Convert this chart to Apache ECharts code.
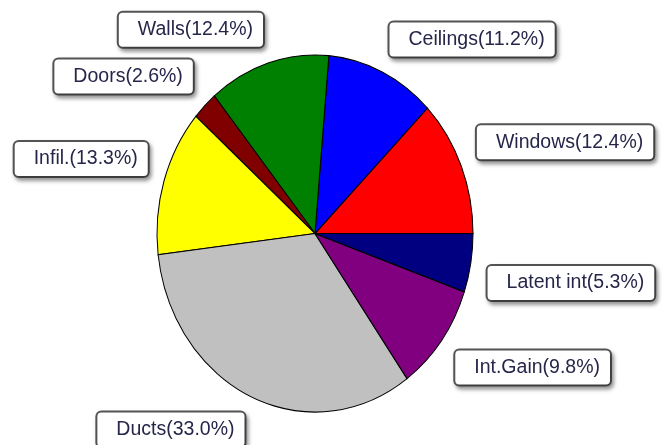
<!DOCTYPE html>
<html>
<head>
<meta charset="utf-8">
<script src="https://cdn.jsdelivr.net/npm/echarts@6/dist/echarts.min.js"></script>
<style>
  html, body { margin: 0; padding: 0; background: #fff; }
  #pieChart { width: 664px; height: 445px; }
</style>
</head>
<body>
<div id="pieChart"></div>
<script>
// load components and their share of the total
const categories = ['Windows', 'Ceilings', 'Walls', 'Doors', 'Infil.', 'Ducts', 'Int.Gain', 'Latent int']
const shares = [12.4, 11.2, 12.4, 2.6, 13.3, 33.0, 9.8, 5.3]
const sliceColors = ['#ff0000', '#0000ff', '#008000', '#800000', '#ffff00', '#c0c0c0', '#800080', '#000080']

// pie is drawn as an ellipse (a circle stretched vertically)
const CX = 315
const CY = 233.5
const R = 158
const SY = 1.13
const LABEL_GAP = 17

const chart = echarts.init(document.getElementById('pieChart'))
const total = shares.reduce((a, b) => a + b, 0)

const option = {
  animation: false,
  series: [
    {
      type: 'custom',
      coordinateSystem: 'none',
      renderItem: function (params, api) {
        const i = params.dataIndex
        let before = 0
        for (let k = 0; k < i; k++) before += shares[k]
        const a0 = (before / total) * Math.PI * 2
        const a1 = ((before + api.value(0)) / total) * Math.PI * 2
        const mid = (a0 + a1) / 2
        const c = Math.cos(mid)
        const s = Math.sin(mid)
        // point on the ellipse edge, then push the label box corner outwards
        const ex = CX + R * c
        const ey = CY - R * SY * s
        const lx = ex + LABEL_GAP * c
        const ly = ey - LABEL_GAP * s
        return {
          type: 'group',
          children: [
            {
              type: 'sector',
              shape: { cx: CX, cy: CY, r: R, startAngle: -a0, endAngle: -a1, clockwise: false },
              originX: CX,
              originY: CY,
              scaleY: SY,
              style: { fill: sliceColors[i], stroke: '#000', lineWidth: 1, strokeNoScale: true }
            },
            {
              type: 'text',
              x: lx,
              y: ly,
              z2: 10,
              style: {
                text: categories[i] + '(' + shares[i].toFixed(1) + '%)',
                align: c >= 0 ? 'left' : 'right',
                verticalAlign: s >= 0 ? 'bottom' : 'top',
                fill: '#26264a',
                font: '19.5px "Liberation Sans", Arial, sans-serif',
                backgroundColor: '#fff',
                borderColor: '#555',
                borderWidth: 2,
                borderRadius: 4,
                padding: [7, 10, 7, 19],
                shadowColor: 'rgba(0,0,0,0.35)',
                shadowBlur: 4,
                shadowOffsetX: 2,
                shadowOffsetY: 3
              }
            }
          ]
        }
      },
      data: shares.map((v, i) => ({ name: categories[i], value: v }))
    }
  ]
}
chart.setOption(option, true)
</script>
</body>
</html>
